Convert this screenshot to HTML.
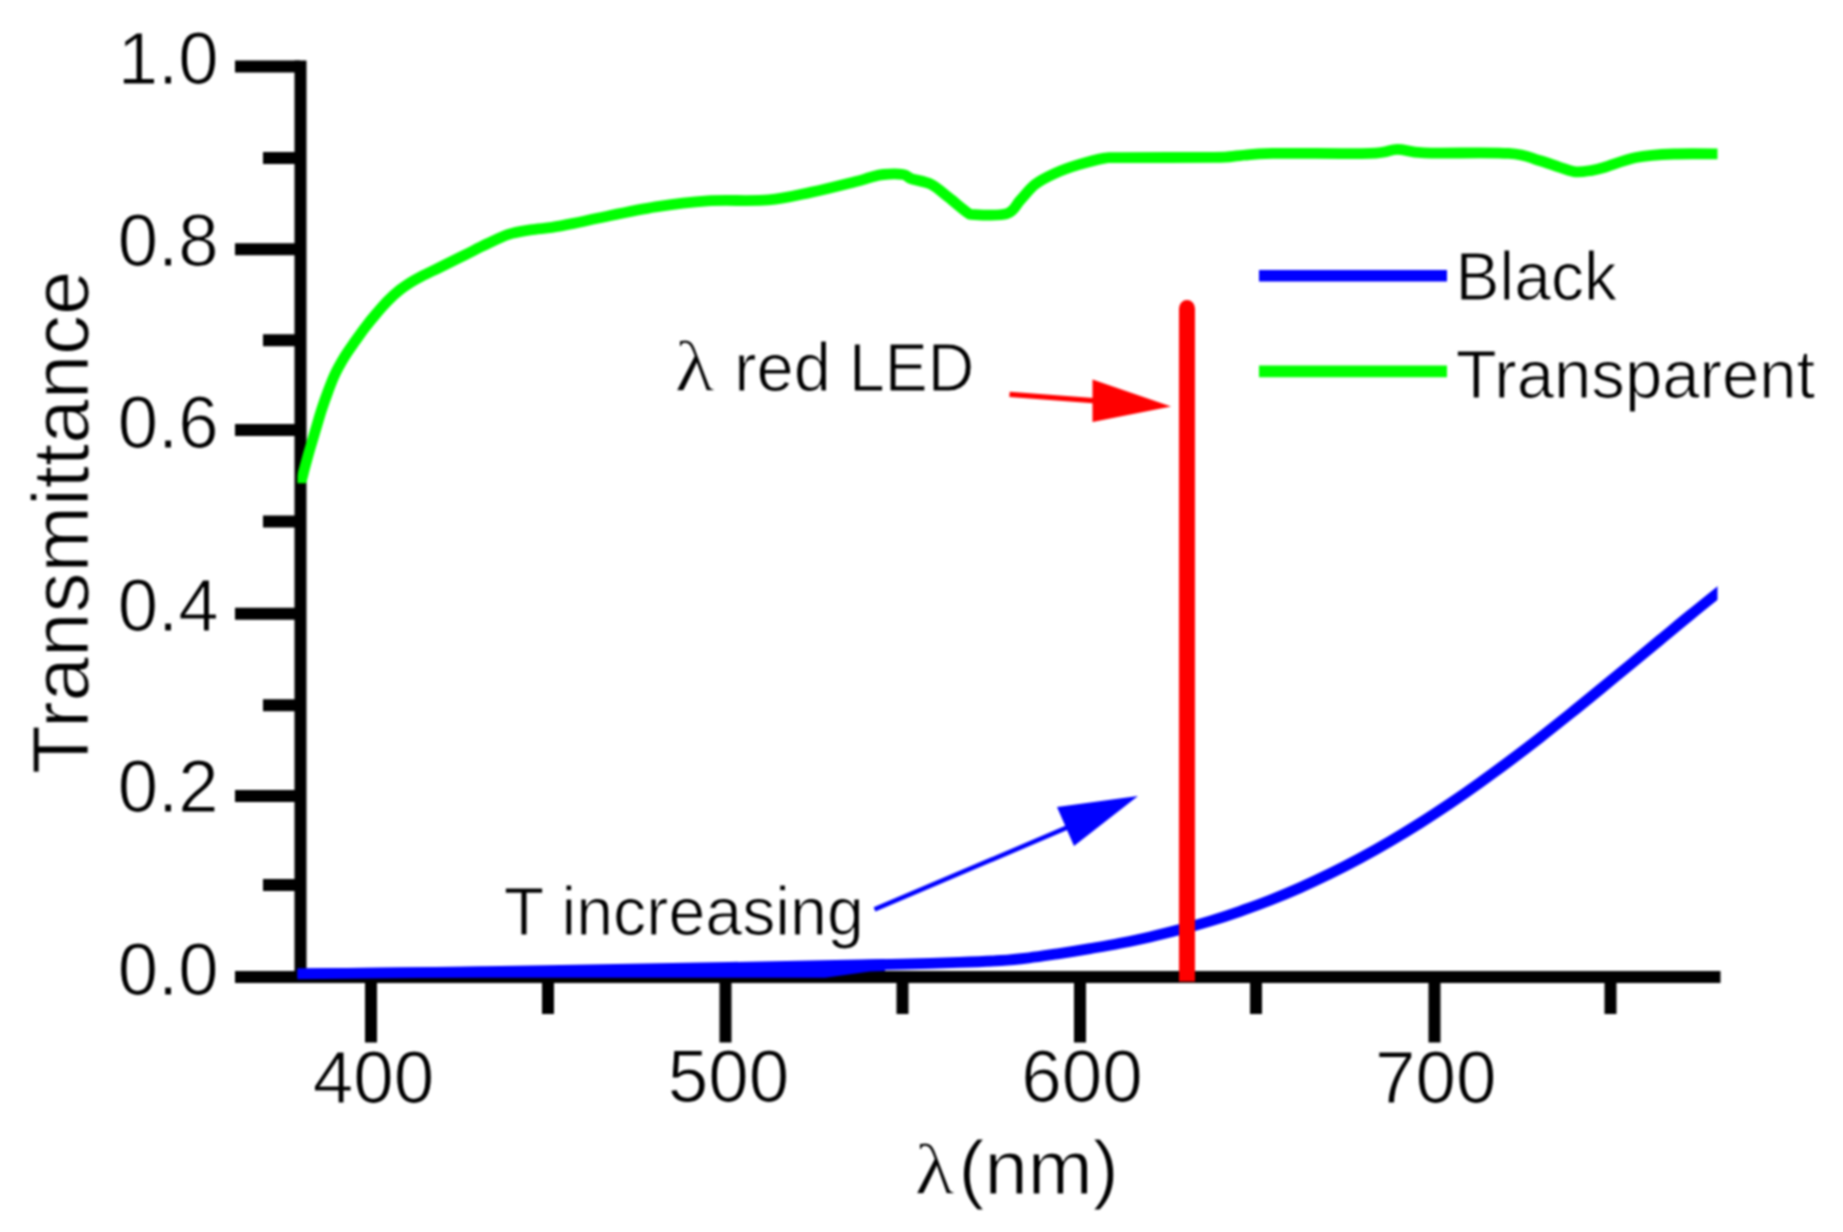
<!DOCTYPE html>
<html lang="en">
<head>
<meta charset="utf-8">
<title>Transmittance vs wavelength</title>
<style>
  html, body { margin: 0; padding: 0; background: #ffffff; }
  body { width: 1843px; height: 1232px; overflow: hidden; }
  svg { display: block; }
  text { font-family: "Liberation Sans", sans-serif; fill: #000000; stroke: #ffffff; stroke-width: 1.1px; paint-order: fill stroke; }
  .sym { font-family: "Liberation Serif", serif; }
  .tick { font-size: 74px; }
  .leg { font-size: 69px; }
  .ann { font-size: 68px; }
  .ttl { font-size: 79px; }
  .ttl2 { font-size: 76px; }
</style>
</head>
<body>
<svg width="1843" height="1232" viewBox="0 0 1843 1232">
  <rect x="0" y="0" width="1843" height="1232" fill="#ffffff"/>

  <g filter="url(#soft)">
  <!-- axes -->
  <g id="axes" stroke="#000000" stroke-width="12" fill="none" stroke-linecap="butt">
    <!-- y axis -->
    <line x1="300.5" y1="60.5" x2="300.5" y2="983"/>
    <!-- x axis -->
    <line x1="235" y1="977" x2="1720.5" y2="977"/>
    <!-- y major ticks -->
    <line x1="235" y1="66.5" x2="300" y2="66.5"/>
    <line x1="235" y1="249.3" x2="300" y2="249.3"/>
    <line x1="235" y1="430" x2="300" y2="430"/>
    <line x1="235" y1="613.8" x2="300" y2="613.8"/>
    <line x1="235" y1="796" x2="300" y2="796"/>
    <!-- y minor ticks -->
    <line x1="263" y1="158" x2="300" y2="158"/>
    <line x1="263" y1="340.3" x2="300" y2="340.3"/>
    <line x1="263" y1="521.5" x2="300" y2="521.5"/>
    <line x1="263" y1="705.2" x2="300" y2="705.2"/>
    <line x1="263" y1="885" x2="300" y2="885"/>
    <!-- x major ticks -->
    <line x1="371" y1="977" x2="371" y2="1042.5"/>
    <line x1="725.5" y1="977" x2="725.5" y2="1042.5"/>
    <line x1="1080" y1="977" x2="1080" y2="1042.5"/>
    <line x1="1434.5" y1="977" x2="1434.5" y2="1042.5"/>
    <!-- x minor ticks -->
    <line x1="548" y1="977" x2="548" y2="1014"/>
    <line x1="902.5" y1="977" x2="902.5" y2="1014"/>
    <line x1="1256" y1="977" x2="1256" y2="1014"/>
    <line x1="1610.5" y1="977" x2="1610.5" y2="1014"/>
  </g>

  <defs>
    <filter id="soft" x="0" y="0" width="1843" height="1232" filterUnits="userSpaceOnUse" color-interpolation-filters="sRGB"><feGaussianBlur stdDeviation="1.3"/></filter>
    <clipPath id="plotclip"><rect x="297.5" y="0" width="1420" height="1232"/></clipPath>
    <clipPath id="greenclip"><rect x="297.5" y="0" width="1420" height="483.3"/></clipPath>
  </defs>
  <!-- green curve (Transparent) -->
  <path id="green" clip-path="url(#greenclip)" fill="none" stroke="#00ff00" stroke-width="10.8" stroke-linejoin="round" stroke-linecap="butt"
    d="M298.5,491.0 C298.8,489.8 299.6,486.2 300.2,484.0 C300.8,481.8 301.4,480.5 302.1,477.9 C302.8,475.3 303.5,472.3 304.6,468.2 C305.7,464.1 307.2,458.4 308.6,453.5 C310.0,448.6 311.4,443.9 312.9,439.0 C314.3,434.1 315.8,429.1 317.3,424.0 C318.8,418.9 320.2,413.9 322.0,408.5 C323.8,403.1 325.9,397.1 328.0,391.5 C330.1,385.9 331.9,380.8 334.5,375.2 C337.1,369.6 340.4,363.7 343.8,358.0 C347.2,352.3 351.6,346.3 355.2,341.2 C358.8,336.1 361.9,331.6 365.3,327.2 C368.7,322.8 371.7,319.0 375.5,314.6 C379.3,310.2 383.9,304.7 388.0,300.6 C392.1,296.5 396.2,292.8 400.0,289.8 C403.8,286.8 406.9,284.8 410.5,282.5 C414.1,280.2 416.2,279.0 421.7,276.2 C427.2,273.4 436.2,269.2 443.4,265.6 C450.6,262.1 457.9,258.5 465.1,254.9 C472.3,251.3 479.6,247.4 486.8,244.0 C494.0,240.6 501.3,236.8 508.5,234.4 C515.7,232.1 523.0,231.1 530.2,229.9 C537.4,228.7 544.7,228.5 551.9,227.4 C559.1,226.3 565.6,225.0 573.6,223.4 C581.6,221.8 586.4,220.5 600.0,217.7 C613.6,214.9 637.6,209.6 655.5,206.8 C673.4,204.0 688.8,202.0 707.6,200.8 C726.4,199.7 750.9,201.4 768.3,199.9 C785.6,198.4 797.2,195.1 811.7,192.1 C826.2,189.1 845.4,184.1 855.1,181.7 C864.8,179.3 865.3,178.7 870.0,177.5 C874.7,176.3 877.9,175.0 883.4,174.5 C888.9,174.0 898.3,173.8 903.0,174.5 C907.7,175.2 906.9,177.2 911.6,178.8 C916.3,180.4 924.9,181.2 931.0,184.3 C937.1,187.4 942.7,192.8 948.5,197.3 C954.3,201.8 961.5,208.5 965.9,211.4 C970.2,214.3 967.8,214.2 974.6,214.6 C981.5,215.0 999.4,215.9 1007.0,213.6 C1014.6,211.2 1015.3,205.4 1020.0,200.5 C1024.7,195.6 1029.5,188.8 1035.3,184.3 C1041.1,179.8 1047.7,176.7 1054.9,173.4 C1062.1,170.1 1070.4,167.2 1078.7,164.7 C1087.0,162.2 1097.6,159.4 1104.8,158.2 C1112.0,157.0 1103.8,157.8 1122.0,157.6 C1140.2,157.4 1194.3,157.6 1214.0,157.3 C1233.7,157.0 1230.2,156.2 1240.0,155.6 C1249.8,154.9 1250.9,153.8 1272.6,153.4 C1294.3,153.0 1349.2,154.1 1370.0,153.4 C1390.8,152.7 1388.3,149.4 1397.4,149.3 C1406.5,149.2 1406.0,152.2 1424.5,152.9 C1443.0,153.6 1489.6,152.2 1508.6,153.4 C1527.6,154.6 1529.8,157.9 1538.4,160.2 C1547.0,162.5 1553.7,165.4 1560.0,167.3 C1566.3,169.2 1570.7,171.3 1576.0,171.8 C1581.3,172.3 1587.3,171.0 1592.0,170.3 C1596.7,169.6 1596.7,169.6 1604.0,167.5 C1611.3,165.4 1624.3,159.8 1636.0,157.5 C1647.7,155.2 1659.2,154.6 1674.0,154.0 C1688.8,153.4 1716.5,154.0 1725.0,154.0"/>

  <!-- blue curve (Black) -->
  <path id="blue" clip-path="url(#plotclip)" fill="none" stroke="#0000ff" stroke-width="10.8" stroke-linejoin="round" stroke-linecap="butt"
    d="M290.0,974.0 C325.0,973.6 431.7,972.5 500.0,971.5 C568.3,970.5 640.0,969.1 700.0,968.0 C760.0,966.9 826.3,965.6 860.0,965.0 C893.7,964.4 885.5,964.6 902.0,964.2 C918.5,963.8 942.5,963.0 959.0,962.4 C975.5,961.8 989.3,961.3 1001.0,960.5 C1012.7,959.7 1019.6,958.9 1029.0,957.8 C1038.4,956.7 1047.3,955.3 1057.5,953.8 C1067.7,952.3 1079.6,950.4 1090.0,948.6 C1100.4,946.8 1110.0,945.2 1120.0,943.2 C1130.0,941.2 1140.0,939.2 1150.0,936.9 C1160.0,934.6 1170.0,932.1 1180.0,929.5 C1190.0,926.9 1200.0,924.1 1210.0,921.1 C1220.0,918.1 1230.0,914.8 1240.0,911.3 C1250.0,907.8 1260.0,904.1 1270.0,900.2 C1280.0,896.3 1290.0,892.1 1300.0,887.7 C1310.0,883.3 1320.0,878.6 1330.0,873.7 C1340.0,868.8 1350.0,863.7 1360.0,858.3 C1370.0,852.9 1380.0,847.3 1390.0,841.4 C1400.0,835.5 1410.0,829.4 1420.0,823.1 C1430.0,816.8 1440.0,810.2 1450.0,803.5 C1460.0,796.8 1470.0,789.8 1480.0,782.6 C1490.0,775.5 1500.0,768.1 1510.0,760.6 C1520.0,753.1 1530.0,745.5 1540.0,737.7 C1550.0,729.9 1560.0,721.9 1570.0,713.9 C1580.0,705.9 1590.0,697.7 1600.0,689.5 C1610.0,681.3 1620.0,673.0 1630.0,664.8 C1640.0,656.5 1650.0,648.2 1660.0,640.0 C1670.0,631.8 1680.0,623.4 1690.0,615.3 C1700.0,607.1 1712.5,597.1 1720.0,591.1 C1727.5,585.1 1732.5,581.0 1735.0,579.0"/>

  <polygon id="blue-low" points="297.5,968.5 460,967 650,966 730,964.5 850,960.5 885,959 885,971 870,971.5 825,977.8 297.5,977.8" fill="#0000ff"/>

  <!-- legend -->
  <line x1="1259" y1="275.7" x2="1447" y2="275.7" stroke="#0000ff" stroke-width="11.6"/>
  <line x1="1259" y1="371.4" x2="1447" y2="371.4" stroke="#00ff00" stroke-width="11.6"/>
  <text class="leg" transform="translate(1455.6,299.5) scale(0.956,1)">Black</text>
  <text class="leg" transform="translate(1455.8,398.2) scale(0.973,1)">Transparent</text>

  <!-- red LED line -->
  <line x1="1187" y1="308" x2="1187" y2="981.5" stroke="#ff0000" stroke-width="16" stroke-linecap="butt"/>
  <ellipse cx="1187" cy="308.5" rx="8" ry="8.5" fill="#ff0000"/>

  <!-- red arrow -->
  <line x1="1009.5" y1="394.3" x2="1100" y2="401.2" stroke="#ff0000" stroke-width="5.2"/>
  <polygon points="1092.5,379.5 1171,406.5 1092.5,422" fill="#ff0000"/>

  <!-- blue arrow -->
  <line x1="874.5" y1="909.4" x2="1068" y2="827.2" stroke="#0000ff" stroke-width="4.6"/>
  <polygon points="1057,807 1138,796 1074,846" fill="#0000ff"/>

  <!-- annotations -->
  <text class="ann" y="390.5"><tspan class="sym" font-size="72" x="674.5" textLength="40.16" lengthAdjust="spacingAndGlyphs">λ</tspan> <tspan x="734.3" textLength="96.61" lengthAdjust="spacingAndGlyphs">red</tspan> <tspan x="849" textLength="125.35" lengthAdjust="spacingAndGlyphs">LED</tspan></text>
  <text class="ann" transform="translate(503.7,935) scale(0.976,1)">T increasing</text>

  <!-- y tick labels -->
  <g class="tick" text-anchor="end">
    <text transform="translate(218.5,84) scale(0.98,1)">1.0</text>
    <text transform="translate(218.5,266) scale(0.98,1)">0.8</text>
    <text transform="translate(218.5,448) scale(0.98,1)">0.6</text>
    <text transform="translate(218.5,631) scale(0.98,1)">0.4</text>
    <text transform="translate(218.5,812) scale(0.98,1)">0.2</text>
    <text transform="translate(218.5,995) scale(0.98,1)">0.0</text>
  </g>

  <!-- x tick labels -->
  <g class="tick" text-anchor="middle">
    <text transform="translate(373.5,1103) scale(0.985,1)">400</text>
    <text transform="translate(728.5,1102) scale(0.985,1)">500</text>
    <text transform="translate(1082,1102) scale(0.985,1)">600</text>
    <text transform="translate(1435.7,1103) scale(0.985,1)">700</text>
  </g>

  <!-- axis titles -->
  <text class="ttl2" y="1194"><tspan class="sym" font-size="72" x="914.5" textLength="40.16" lengthAdjust="spacingAndGlyphs">λ</tspan><tspan x="958.5" textLength="160.26" lengthAdjust="spacingAndGlyphs">(nm)</tspan></text>
  <text class="ttl" transform="translate(88.2,774) rotate(-90) scale(1.012,1)">Transmittance</text>
  </g>
</svg>
</body>
</html>
